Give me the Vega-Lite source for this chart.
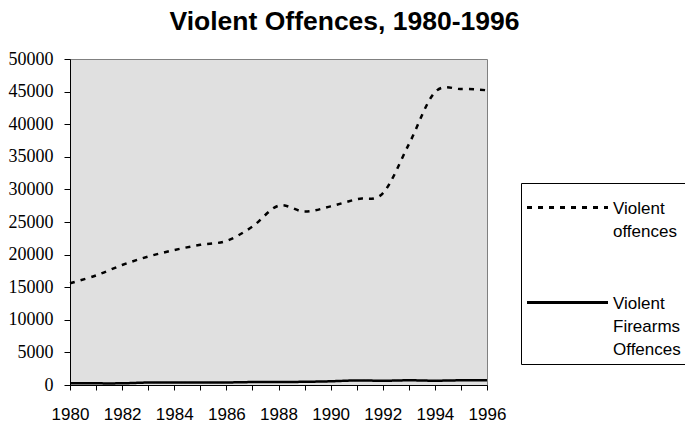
{
  "$schema": "https://vega.github.io/schema/vega-lite/v6.json",
  "width": 417,
  "height": 326,
  "autosize": {"type": "none"},
  "padding": {"left": 70, "top": 59, "right": 198, "bottom": 37},
  "background": "white",
  "title": {
    "text": "Violent Offences, 1980-1996",
    "font": "Arial, Liberation Sans, sans-serif",
    "fontSize": 26.5,
    "fontWeight": "bold",
    "color": "black",
    "anchor": "middle",
    "dx": 66,
    "offset": 15
  },
  "config": {
    "view": {"fill": "#e0e0e0", "stroke": "#808080", "strokeWidth": 1}
  },
  "data": {
    "values": [
      {"year": 1980, "series": "Violent offences", "value": 15600},
      {"year": 1981, "series": "Violent offences", "value": 16800},
      {"year": 1982, "series": "Violent offences", "value": 18400},
      {"year": 1983, "series": "Violent offences", "value": 19700},
      {"year": 1984, "series": "Violent offences", "value": 20700},
      {"year": 1985, "series": "Violent offences", "value": 21500},
      {"year": 1986, "series": "Violent offences", "value": 22100},
      {"year": 1987, "series": "Violent offences", "value": 24300},
      {"year": 1988, "series": "Violent offences", "value": 27500},
      {"year": 1989, "series": "Violent offences", "value": 26600},
      {"year": 1990, "series": "Violent offences", "value": 27400},
      {"year": 1991, "series": "Violent offences", "value": 28500},
      {"year": 1992, "series": "Violent offences", "value": 29400},
      {"year": 1993, "series": "Violent offences", "value": 36900},
      {"year": 1994, "series": "Violent offences", "value": 44900},
      {"year": 1995, "series": "Violent offences", "value": 45400},
      {"year": 1996, "series": "Violent offences", "value": 45200},
      {"year": 1980, "series": "Violent Firearms Offences", "value": 250},
      {"year": 1981, "series": "Violent Firearms Offences", "value": 250},
      {"year": 1982, "series": "Violent Firearms Offences", "value": 260},
      {"year": 1983, "series": "Violent Firearms Offences", "value": 380},
      {"year": 1984, "series": "Violent Firearms Offences", "value": 390},
      {"year": 1985, "series": "Violent Firearms Offences", "value": 400},
      {"year": 1986, "series": "Violent Firearms Offences", "value": 390},
      {"year": 1987, "series": "Violent Firearms Offences", "value": 450},
      {"year": 1988, "series": "Violent Firearms Offences", "value": 460},
      {"year": 1989, "series": "Violent Firearms Offences", "value": 490},
      {"year": 1990, "series": "Violent Firearms Offences", "value": 570},
      {"year": 1991, "series": "Violent Firearms Offences", "value": 700},
      {"year": 1992, "series": "Violent Firearms Offences", "value": 650},
      {"year": 1993, "series": "Violent Firearms Offences", "value": 720},
      {"year": 1994, "series": "Violent Firearms Offences", "value": 660},
      {"year": 1995, "series": "Violent Firearms Offences", "value": 720},
      {"year": 1996, "series": "Violent Firearms Offences", "value": 720}
    ]
  },
  "mark": {"type": "line", "interpolate": "cardinal", "color": "black", "strokeWidth": 2.5},
  "encoding": {
    "x": {
      "field": "year",
      "type": "quantitative",
      "scale": {"domain": [1980, 1996], "nice": false, "zero": false},
      "axis": {
        "title": null,
        "grid": false,
        "values": [1980, 1981, 1982, 1983, 1984, 1985, 1986, 1987, 1988, 1989, 1990, 1991, 1992, 1993, 1994, 1995, 1996],
        "format": "d",
        "labelExpr": "datum.value % 2 == 0 ? datum.label : ''",
        "labelOverlap": false,
        "labelFlush": false,
        "domainColor": "black",
        "tickColor": "black",
        "tickSize": 5,
        "labelPadding": 16,
        "labelFont": "Arial, Liberation Sans, sans-serif",
        "labelFontSize": 17,
        "labelColor": "black"
      }
    },
    "y": {
      "field": "value",
      "type": "quantitative",
      "scale": {"domain": [0, 50000], "nice": false},
      "axis": {
        "title": null,
        "grid": false,
        "values": [0, 5000, 10000, 15000, 20000, 25000, 30000, 35000, 40000, 45000, 50000],
        "format": "d",
        "labelOverlap": false,
        "labelFlush": false,
        "domainColor": "black",
        "tickColor": "black",
        "tickSize": 6,
        "labelPadding": 11,
        "labelFont": "Liberation Serif, Times New Roman, serif",
        "labelFontSize": 18,
        "labelColor": "black"
      }
    },
    "strokeDash": {
      "field": "series",
      "type": "nominal",
      "scale": {
        "domain": ["Violent offences", "Violent Firearms Offences"],
        "range": [[5, 6], [1, 0]]
      },
      "legend": {
        "orient": "none",
        "legendX": 451,
        "legendY": 124,
        "title": null,
        "symbolType": "M-2.41,0H2.41",
        "symbolSize": 1129,
        "symbolStrokeWidth": 3,
        "symbolStrokeColor": "black",
        "symbolFillColor": "transparent",
        "symbolOffset": 22,
        "labelOffset": 27,
        "labelFont": "Arial, Liberation Sans, sans-serif",
        "labelFontSize": 17,
        "labelColor": "black",
        "labelBaseline": "top",
        "labelLimit": 400,
        "labelExpr": "datum.label == 'Violent offences' ? ['Violent', 'offences'] : ['Violent', 'Firearms', 'Offences']",
        "strokeColor": "black",
        "fillColor": "white",
        "padding": 6,
        "rowPadding": 44,
        "encode": {
          "labels": {"update": {"dy": {"value": -7}, "lineHeight": {"value": 23}}}
        }
      }
    }
  }
}
